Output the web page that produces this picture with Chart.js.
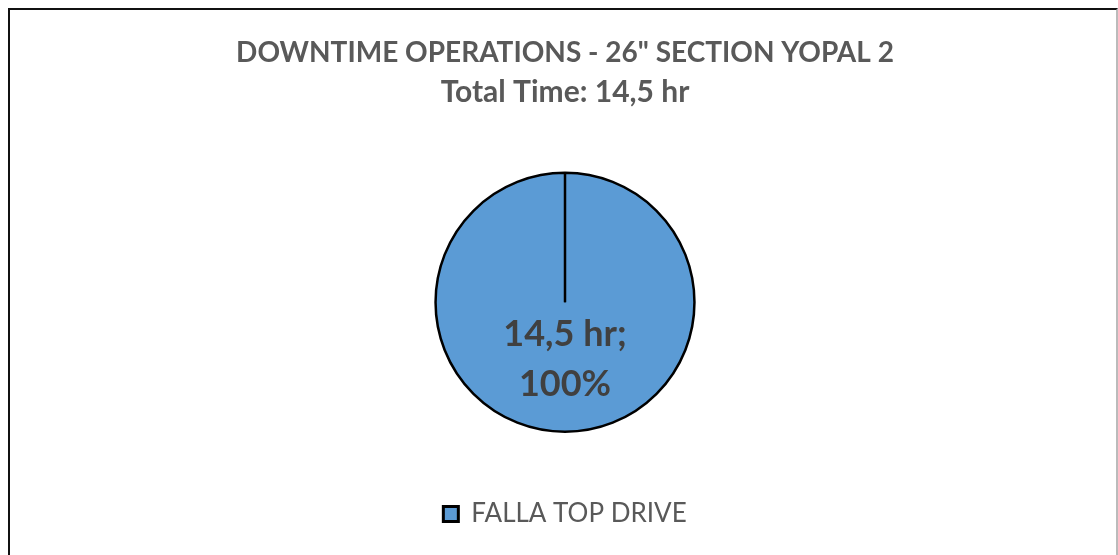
<!DOCTYPE html>
<html>
<head>
<meta charset="utf-8">
<script src="https://cdn.jsdelivr.net/npm/chart.js@4/dist/chart.umd.min.js"></script>
<style>
  html, body { margin: 0; padding: 0; background: #fff; }
  #frame {
    position: absolute; left: 8px; top: 8px; width: 1106px; height: 560px;
    border-left: 2px solid #111; border-top: 2px solid #111; border-right: 2px solid #bbb;
  }
  #wrap { position: absolute; left: 0; top: 0; width: 1118px; height: 555px; }
</style>
</head>
<body>
<div id="frame"></div>
<div id="wrap"><canvas id="downtimeChart" width="1118" height="555"></canvas></div>
<script>
const chartTitle = 'DOWNTIME OPERATIONS - 26" SECTION YOPAL 2';
const chartSubtitle = 'Total Time: 14,5 hr';
const categories = ['FALLA TOP DRIVE'];
const hours = [14.5];
const sliceColors = ['#5B9BD5'];

document.addEventListener('DOMContentLoaded', () => {
    const canvas = document.getElementById('downtimeChart');
    const total = hours.reduce((a, b) => a + b, 0);

    // draws the radial start line and the "value; percent" label inside the slice
    const sliceLabels = {
        id: 'sliceLabels',
        afterDatasetsDraw(chart) {
            const ctx = chart.ctx;
            const meta = chart.getDatasetMeta(0);
            meta.data.forEach((arc, i) => {
                const p = arc.getProps(['x', 'y', 'startAngle', 'endAngle', 'outerRadius']);
                ctx.save();
                ctx.strokeStyle = '#000';
                ctx.lineWidth = 2;
                ctx.beginPath();
                ctx.moveTo(p.x, p.y);
                ctx.lineTo(p.x + Math.cos(p.startAngle) * p.outerRadius,
                           p.y + Math.sin(p.startAngle) * p.outerRadius);
                ctx.stroke();

                const mid = (p.startAngle + p.endAngle) / 2;
                const lx = p.x + Math.cos(mid) * p.outerRadius * 0.44;
                const ly = p.y + Math.sin(mid) * p.outerRadius * 0.44;
                const value = hours[i].toString().replace('.', ',') + ' hr;';
                const pct = Math.round(hours[i] / total * 100) + '%';
                ctx.fillStyle = '#404040';
                ctx.font = 'bold 36px Lato';
                ctx.textAlign = 'center';
                ctx.textBaseline = 'middle';
                ctx.fillText(value, lx, ly - 25);
                ctx.fillText(pct, lx, ly + 25);
                ctx.restore();
            });
        }
    };

    new Chart(canvas, {
        type: 'pie',
        data: {
            labels: categories,
            datasets: [{
                data: hours,
                backgroundColor: sliceColors,
                borderColor: '#000',
                borderWidth: 2.5,
                hoverOffset: 0
            }]
        },
        options: {
            responsive: false,
            animation: false,
            layout: { padding: { left: 12, top: 36, bottom: 18 } },
            plugins: {
                title: {
                    display: true,
                    text: chartTitle,
                    color: '#595959',
                    font: { family: 'Lato', size: 28, weight: 'bold', lineHeight: 1.2 },
                    padding: { top: 0, bottom: 5 }
                },
                subtitle: {
                    display: true,
                    text: chartSubtitle,
                    color: '#595959',
                    font: { family: 'Lato', size: 30, weight: 'bold', lineHeight: 1.2 },
                    padding: { top: 0, bottom: 61 }
                },
                legend: {
                    position: 'bottom',
                    labels: {
                        color: '#595959',
                        font: { family: 'Lato', size: 26 },
                        boxWidth: 15,
                        boxHeight: 15,
                        padding: 68,
                        generateLabels(chart) {
                            const items = Chart.overrides.pie.plugins.legend.labels.generateLabels(chart);
                            items.forEach(item => { item.lineWidth = 3; });
                            return items;
                        }
                    }
                },
                tooltip: { enabled: false }
            }
        },
        plugins: [sliceLabels]
    });
});
</script>
</body>
</html>
